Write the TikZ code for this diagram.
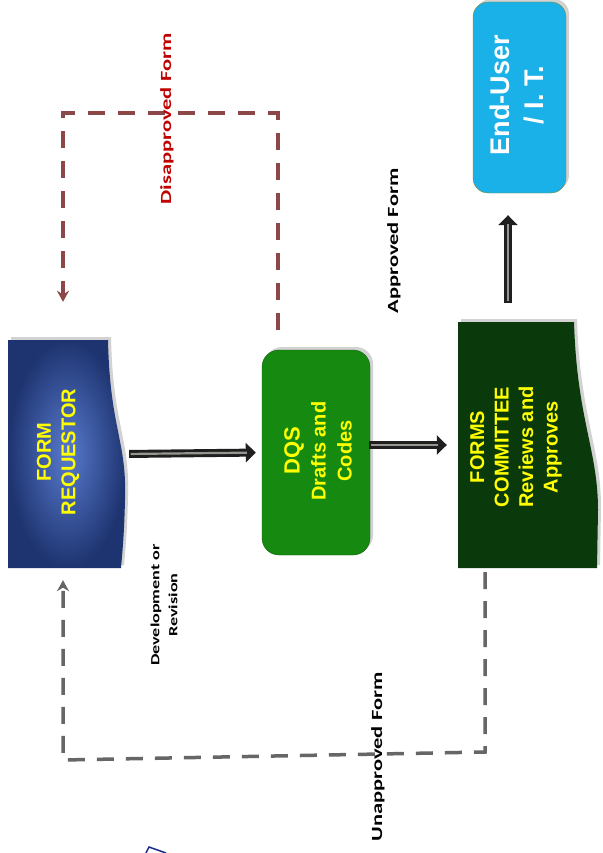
\documentclass[tikz,border=0pt]{standalone}
\usepackage{fontspec}
\setmainfont{Liberation Sans}
\newfontfamily\lblfont{Carlito}
\usetikzlibrary{arrows.meta,shadows,calc}
\definecolor{reqdark}{RGB}{30,52,112}
\definecolor{reqlight}{RGB}{88,122,205}
\definecolor{dqsgreen}{RGB}{22,138,16}
\definecolor{comgreen}{RGB}{10,58,12}
\definecolor{eublue}{RGB}{26,176,232}
\definecolor{txtyellow}{RGB}{255,255,0}
\definecolor{dbrown}{RGB}{140,72,72}
\definecolor{dgray}{RGB}{102,102,102}
\definecolor{dred}{RGB}{192,0,0}
\definecolor{arrgray}{RGB}{150,150,145}
\begin{document}
\begin{tikzpicture}[x=1pt,y=-1pt,
  boxtext/.style={rotate=90, align=center, text=txtyellow,
    font=\bfseries\fontsize{20}{24.5}\selectfont},
  lbltext/.style={rotate=90, align=center,
    font=\lblfont\bfseries\fontsize{15.5}{18}\selectfont},
  frame/.style={inner sep=0pt, draw=none},
  myshadow/.style={drop shadow={opacity=0.35, shadow xshift=3pt, shadow yshift=3pt}},
  hollowout/.style={line width=8pt, draw=black!88, -{Triangle[length=10pt,width=19pt]}},
  hollowin/.style={line width=2.2pt, draw=arrgray},
  dashbrown/.style={draw=dbrown, line width=3.5pt, dash pattern=on 17pt off 13pt,
    -{Stealth[length=11pt,width=12pt]}},
  dashgray/.style={draw=dgray, line width=3.5pt, dash pattern=on 17pt off 12pt,
    -{Stealth[length=11pt,width=12pt]}}
]
\useasboundingbox (0,0) rectangle (602,853);
\fill[white] (0,0) rectangle (602,853);

% frames (named nodes for the shapes)
\node[frame, minimum width=117pt, minimum height=228pt] (req) at (66.5,454) {};
\node[frame, minimum width=140pt, minimum height=246pt] (com) at (528,445) {};

% FORM REQUESTOR (document shape)
\shade[inner color=reqlight, outer color=reqdark, myshadow]
  (8,340) -- (108,340) .. controls (110,430) and (127,440) .. (125,500)
  .. controls (124,540) and (122,555) .. (121,568) -- (8,568) -- cycle;

% DQS
\node[draw=dqsgreen!70!black, fill=dqsgreen, rounded corners=17pt,
  minimum width=108pt, minimum height=205pt, myshadow] (dqs) at (316,452.5) {};

% FORMS COMMITTEE
\fill[comgreen, myshadow]
  (458,322) -- (574,322) .. controls (577,420) and (598,450) .. (598,510)
  -- (597,568) -- (458,568) -- cycle;

% End-User
\node[draw=olive!70!gray, fill=eublue, rounded corners=15pt,
  minimum width=93pt, minimum height=191pt, myshadow] (eu) at (519.5,97.5) {};

% box texts
\node[boxtext] (reqt) at (58,452) {FORM\\REQUESTOR};
\node[boxtext, font=\bfseries\fontsize{20}{26}\selectfont] (dqst) at (318,451)
  {{\fontsize{22}{26}\selectfont DQS}\\Drafts and\\Codes};
\node[boxtext] (comt) at (516,447) {FORMS\\COMMITTEE\\Reviews and\\Approves};
\node[boxtext, text=white, font=\bfseries\fontsize{27}{34}\selectfont] (eut) at (517,95)
  {End-User\\/ I. T.};

% hollow arrows
\draw[hollowout, shorten <=4pt, shorten >=6pt] (req.east) -- (dqs.west);
\draw[hollowin, shorten <=5.5pt, shorten >=15pt] (req.east) -- (dqs.west);
\draw[hollowout, shorten <=-1pt, shorten >=11pt] (dqs.east |- com.west) -- (com.west);
\draw[hollowin, shorten <=0.5pt, shorten >=20pt] (dqs.east |- com.west) -- (com.west);
\draw[hollowout, shorten <=19pt, shorten >=22pt] ([xshift=-20pt]com.north) -- ([xshift=-20pt]com.north |- eu.south);
\draw[hollowin, shorten <=20.5pt, shorten >=31pt] ([xshift=-20pt]com.north) -- ([xshift=-20pt]com.north |- eu.south);

% dashed feedback connectors
\draw[dashbrown] ([shift={(-38,-20)}]dqs.north) -- ++(0,-217) -| ([shift={(-3.5,-38)}]req.north);
\coordinate (g1) at (485,752);
\coordinate (g2) at (63,760);
\draw[dashgray] ([shift={(-43,4)}]com.south) -- (g1) -- (g2) -- ([shift={(-3.5,12)}]req.south);

% labels
\node[lbltext, text=dred] (dis) at (167,119) {\scalebox{1.45}[1]{Disapproved Form}};
\node[lbltext] (app) at (394,241) {\scalebox{1.45}[1]{Approved Form}};
\node[lbltext, font=\lblfont\bfseries\fontsize{12.5}{18}\selectfont] (dev) at (164,605)
  {\scalebox{1.45}[1]{Development or}\\\scalebox{1.45}[1]{Revision}};
\node[lbltext] (unap) at (378,757) {\scalebox{1.45}[1]{Unapproved Form}};

% partial blue shape at bottom edge
\draw[draw=reqdark!80!blue, line width=1.5pt] (146,853) -- (149,847) -- (166,853);
\end{tikzpicture}
\end{document}
